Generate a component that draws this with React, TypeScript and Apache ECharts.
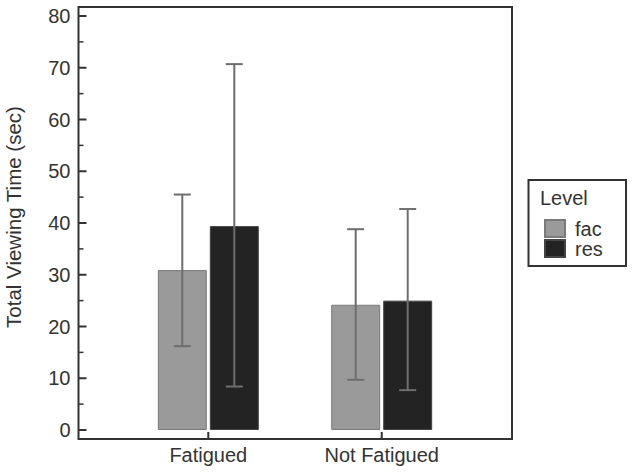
import React, { useEffect, useRef } from "react";
import * as echarts from "echarts";

const categories = ["Fatigued", "Not Fatigued"];
const facMeans = [30.9, 24.2];
const resMeans = [39.4, 25.0];
const facLow = [16.2, 9.7];
const facHigh = [45.5, 38.8];
const resLow = [8.4, 7.7];
const resHigh = [70.7, 42.7];
const yTicks = [0, 10, 20, 30, 40, 50, 60, 70, 80];

const FONT = "'Liberation Sans', Arial, sans-serif";
const BAR_W = 49;
const BAR_GAP_PX = 3;
const TICK_COLOR = "#333";
const FRAME_L = 78.5;
const FRAME_B = 439;
const PLOT_L = 121.6;

function errSeries(name: string, lows: number[], highs: number[], offset: number) {
  return {
    type: "custom",
    name,
    z: 5,
    xAxisIndex: 0,
    yAxisIndex: 0,
    data: categories.map((_, i) => [i, lows[i], highs[i]]),
    renderItem: (params: any, api: any) => {
      const ci = api.value(0);
      const lo = api.coord([ci, api.value(1)]);
      const hi = api.coord([ci, api.value(2)]);
      const x = lo[0] + offset;
      const cap = 8.5;
      const style = { stroke: "#6e6e6e", lineWidth: 2 };
      return {
        type: "group",
        children: [
          { type: "line", shape: { x1: x, y1: lo[1], x2: x, y2: hi[1] }, style },
          { type: "line", shape: { x1: x - cap, y1: hi[1], x2: x + cap, y2: hi[1] }, style },
          { type: "line", shape: { x1: x - cap, y1: lo[1], x2: x + cap, y2: lo[1] }, style },
        ],
      };
    },
  };
}

function toNum(r: any, idx: number): number {
  if (Array.isArray(r)) return Number(r[idx]);
  return Number(r);
}

export default function App() {
  const ref = useRef<HTMLDivElement>(null);
  useEffect(() => {
    document.body.style.margin = "0";
    if (!ref.current) return;
    const chart = echarts.init(ref.current, null, { renderer: "svg" });
    const off = (BAR_W + BAR_GAP_PX) / 2;
    const gridBase = { containLabel: false, outerBoundsMode: "none" };
    const baseGraphics: any[] = [
      {
        type: "polygon",
        shape: { points: [[FRAME_L, 7], [512, 7], [512, FRAME_B], [FRAME_L, FRAME_B]] },
        style: { fill: "transparent", stroke: "#333", lineWidth: 2 },
        z: 100,
        silent: true,
      },
      {
        type: "polygon",
        shape: { points: [[528.5, 180], [626, 180], [626, 266], [528.5, 266]] },
        style: { fill: "transparent", stroke: "#333", lineWidth: 2 },
        z: 100,
        silent: true,
      },
      {
        type: "text",
        x: 540,
        y: 198,
        z: 100,
        style: { text: "Level", fill: "#333", font: `20px ${FONT}`, textVerticalAlign: "middle" },
        silent: true,
      },
    ];
    chart.setOption({
      animation: false,
      backgroundColor: "#ffffff",
      textStyle: { fontFamily: FONT },
      grid: [
        { ...gridBase, left: PLOT_L, right: 163.6, top: 16, bottom: 43 },
        { ...gridBase, left: FRAME_L, right: 120, top: 16, bottom: 43 },
        { ...gridBase, left: PLOT_L, right: 163.6, top: 16, bottom: 473 - FRAME_B },
      ],
      xAxis: [
        { type: "category", gridIndex: 0, data: categories, show: false },
        { type: "value", gridIndex: 1, min: 0, max: 1, show: false },
        {
          type: "category",
          gridIndex: 2,
          data: categories,
          axisLine: { show: false },
          axisTick: { show: false },
          axisLabel: { color: "#333", fontSize: 20, margin: 6, fontFamily: FONT },
          splitLine: { show: false },
        },
      ],
      yAxis: [
        { type: "value", gridIndex: 0, min: 0, max: 80, show: false, splitLine: { show: false } },
        {
          type: "value",
          gridIndex: 1,
          min: 0,
          max: 80,
          interval: 10,
          name: "Total Viewing Time (sec)",
          nameLocation: "middle",
          nameGap: 55,
          nameRotate: 90,
          nameTextStyle: { color: "#333", fontSize: 20.5, fontFamily: FONT, padding: [0, 0, 0, 12] },
          axisLine: { show: false },
          axisTick: { show: false },
          axisLabel: {
            color: "#333",
            fontSize: 20,
            margin: 8,
            fontFamily: FONT,
            formatter: (v: number) => (yTicks.includes(v) ? String(v) : ""),
          },
          splitLine: { show: false },
        },
        { type: "value", gridIndex: 2, min: 0, max: 80, show: false, splitLine: { show: false } },
      ],
      legend: {
        data: ["fac", "res"],
        orient: "vertical",
        left: 539,
        top: 213.5,
        itemWidth: 20,
        itemHeight: 17,
        itemGap: 0,
        icon: "rect",
        textStyle: { color: "#333", fontSize: 20, lineHeight: 20, fontFamily: FONT, padding: [0, 0, 0, 5] },
      },
      graphic: baseGraphics,
      series: [
        {
          type: "bar",
          name: "fac",
          xAxisIndex: 0,
          yAxisIndex: 0,
          data: facMeans,
          barWidth: BAR_W,
          barGap: `${(BAR_GAP_PX / BAR_W) * 100}%`,
          itemStyle: { color: "#9a9a9a", borderColor: "#7a7a7a", borderWidth: 1 },
        },
        {
          type: "bar",
          name: "res",
          xAxisIndex: 0,
          yAxisIndex: 0,
          data: resMeans,
          barWidth: BAR_W,
          barGap: `${(BAR_GAP_PX / BAR_W) * 100}%`,
          itemStyle: { color: "#232323", borderColor: "#444", borderWidth: 1 },
        },
        errSeries("fac error", facLow, facHigh, -off),
        errSeries("res error", resLow, resHigh, off),
      ],
    });

    // Axis ticks positioned through the library's own scales (grid coordinate conversion).
    const minorVals = yTicks.slice(1).map((v, i) => (v + yTicks[i]) / 2);
    const tickEls: any[] = [];
    const addYTick = (v: number, len: number, w: number) => {
      const y = toNum(chart.convertToPixel({ gridIndex: 1 } as any, [0, v]), 1);
      if (!isFinite(y)) return;
      tickEls.push({
        type: "rect",
        z: 101,
        silent: true,
        shape: { x: FRAME_L, y: y - w / 2, width: len, height: w },
        style: { fill: TICK_COLOR },
      });
    };
    yTicks.forEach((v) => addYTick(v, 8, 2));
    minorVals.forEach((v) => addYTick(v, 5, 1.5));
    categories.forEach((_, i) => {
      const x = toNum(chart.convertToPixel({ gridIndex: 2 } as any, [i, 0]), 0);
      if (!isFinite(x)) return;
      tickEls.push({
        type: "rect",
        z: 101,
        silent: true,
        shape: { x: x - 1, y: FRAME_B - 7, width: 2, height: 7 },
        style: { fill: TICK_COLOR },
      });
    });
    chart.setOption({ graphic: [...baseGraphics, ...tickEls] });

    return () => chart.dispose();
  }, []);
  return <div ref={ref} style={{ width: 632, height: 473 }} />;
}
